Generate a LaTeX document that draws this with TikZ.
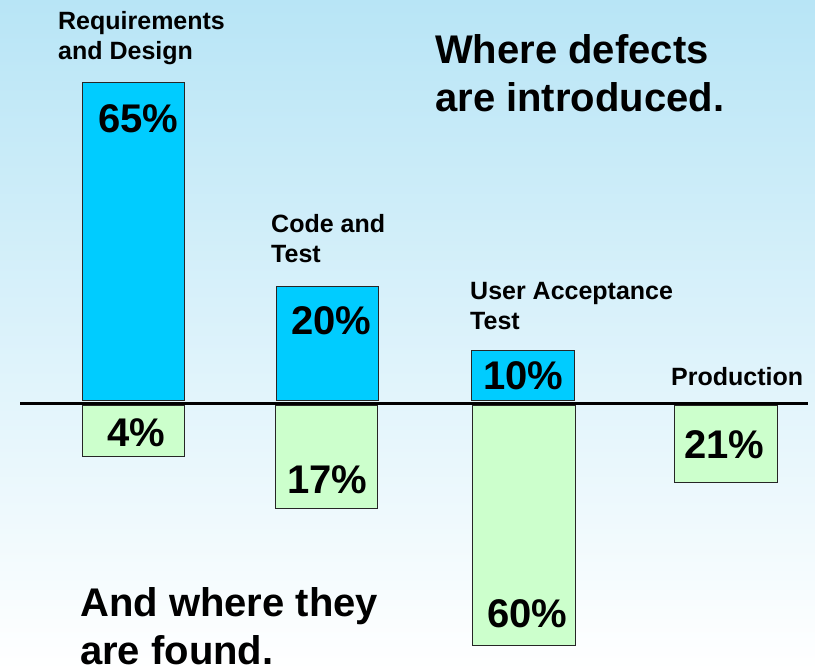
\documentclass[tikz,border=0pt]{standalone}
\usepackage{fontspec}
\setmainfont{Liberation Sans}
\usepackage{tikz}
\definecolor{introBlue}{RGB}{0,204,255}
\definecolor{foundGreen}{RGB}{204,255,204}
\definecolor{skyTop}{RGB}{184,229,246}
\definecolor{skyMid}{RGB}{226,243,250}
\newcommand{\axisLevel}{403}
\newcommand{\blueBottom}{400}
\newcommand{\greenTop}{405}
\newcommand{\pctFont}{\bfseries\fontsize{40}{48}\selectfont}
\newcommand{\stageFont}{\bfseries\fontsize{25}{30}\selectfont}

\begin{document}
\begin{tikzpicture}[x=1pt, y=-1pt,
    introduced/.style={draw=black!85, fill=introBlue, line width=1pt},
    found/.style={draw=black!85, fill=foundGreen, line width=1pt},
    pct/.style={anchor=base west, inner sep=0pt, font=\pctFont},
    stage/.style={anchor=base west, inner sep=0pt, align=left, font=\stageFont},
    headline/.style={anchor=base west, inner sep=0pt, align=left, font=\pctFont}]
\useasboundingbox (0,0) rectangle (815,670);
\shade[top color=skyTop, middle color=skyMid, bottom color=white] (0,0) rectangle (815,670);

% where defects are introduced
\draw[introduced] (82,82) rectangle (184,\blueBottom);
\draw[introduced] (276,286) rectangle (378,\blueBottom);
\draw[introduced] (471,350) rectangle (574,\blueBottom);
% where they are found
\draw[found] (82,\greenTop) rectangle (184,456);
\draw[found] (275,\greenTop) rectangle (377,508);
\draw[found] (472,\greenTop) rectangle (575,645);
\draw[found] (674,\greenTop) rectangle (777,482);

\coordinate (axisleft) at (20,\axisLevel);
\coordinate (axisright) at (808,\axisLevel);
\draw[line width=3pt] (axisleft) -- (axisright);

% multi-line labels sit on the baseline of their last line
\node[stage] (reqdesign) at (58,59) {Requirements\\and Design};
\node[stage] (codetest) at (271,262) {Code and\\Test};
\node[stage] (uatest) at (470,329) {User Acceptance\\Test};
\node[stage] (production) at (671,385) {Production};

\node[pct] (reqin) at (98,132) {65\%};
\node[pct] (codein) at (291,334) {20\%};
\node[pct] (uatin) at (483,389) {10\%};
\node[pct] (reqfound) at (107,446) {4\%};
\node[pct] (codefound) at (287,493) {17\%};
\node[pct] (uatfound) at (487,627) {60\%};
\node[pct] (prodfound) at (684,458) {21\%};

\node[headline] (introtitle) at (435,111) {Where defects\\are introduced.};
\node[headline] (foundtitle) at (80,664) {And where they\\are found.};
\end{tikzpicture}
\end{document}
